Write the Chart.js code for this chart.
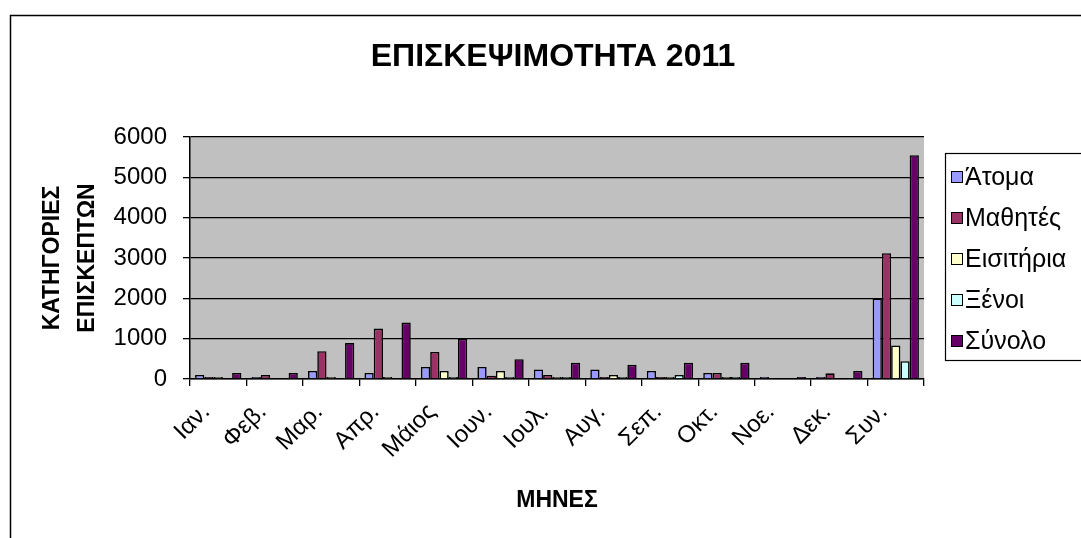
<!DOCTYPE html>
<html>
<head>
<meta charset="utf-8">
<script src="https://cdn.jsdelivr.net/npm/chart.js@4"></script>
<style>
html,body{margin:0;padding:0;background:#fff;overflow:hidden;}
#wrap{width:1081px;height:538px;position:relative;}
</style>
</head>
<body>
<div id="wrap"><canvas id="c" width="1081" height="538"></canvas></div>
<script>
const months = ['Ιαν.','Φεβ.','Μαρ.','Απρ.','Μάιος','Ιουν.','Ιουλ.','Αυγ.','Σεπ.','Οκτ.','Νοε.','Δεκ.','Συν.'];
const seriesNames = ['Άτομα','Μαθητές','Εισιτήρια','Ξένοι','Σύνολο'];
const atoma     = [100, 30, 200, 150, 300, 300, 235, 235, 200, 150, 30, 30, 2000];
const mathites  = [40, 100, 690, 1250, 670, 80, 100, 30, 30, 150, null, 140, 3120];
const eisitiria = [40, null, 40, 40, 200, 200, 30, 100, 30, 30, null, null, 830];
const xenoi     = [null, null, null, null, 40, 40, 30, 30, 100, 30, null, null, 440];
const synolo    = [150, 150, 890, 1400, 1000, 490, 405, 355, 405, 405, 30, 200, 5550];
const yTicks = [0, 1000, 2000, 3000, 4000, 5000, 6000];
const chartTitle = 'ΕΠΙΣΚΕΨΙΜΟΤΗΤΑ 2011';
const colors = ['#9999FF','#993366','#FFFFCC','#CCFFFF','#660066'];
const seriesData = [atoma, mathites, eisitiria, xenoi, synolo];
const FONT = '"Liberation Sans", Arial, sans-serif';

const bgPlugin = {
  id: 'bg',
  beforeDraw(chart) {
    const {ctx, chartArea: a} = chart;
    ctx.save();
    ctx.fillStyle = '#C0C0C0';
    ctx.fillRect(a.left, a.top, a.right - a.left, a.bottom - a.top);
    ctx.restore();
  },
  afterDraw(chart) {
    const ctx = chart.ctx;
    ctx.save();
    // outer frame
    ctx.strokeStyle = '#000';
    ctx.lineWidth = 1.5;
    ctx.strokeRect(10.5, 15.5, 1200, 600);
    // title
    ctx.fillStyle = '#000';
    ctx.font = 'bold 32px ' + FONT;
    ctx.textAlign = 'center';
    ctx.textBaseline = 'middle';
    ctx.fillText(chartTitle, 553, 57);
    // legend
    const lx = 945, ly = 153, lw = 200, lh = 207;
    ctx.fillStyle = '#fff';
    ctx.fillRect(lx, ly, lw, lh);
    ctx.lineWidth = 1.2;
    ctx.strokeRect(lx + 0.5, ly + 0.5, lw, lh);
    ctx.font = '25px ' + FONT;
    ctx.textBaseline = 'middle';
    ctx.textAlign = 'left';
    chart.data.datasets.forEach((ds, i) => {
      const cy = 177 + i * 41;
      ctx.fillStyle = ds.backgroundColor;
      ctx.fillRect(951, cy - 6, 12, 12);
      ctx.strokeStyle = '#000';
      ctx.lineWidth = 1;
      ctx.strokeRect(951.5, cy - 5.5, 11, 11);
      ctx.fillStyle = '#000';
      ctx.fillText(ds.label, 965, cy + 1);
    });
    ctx.restore();
  }
};

new Chart(document.getElementById('c'), {
  type: 'bar',
  data: {
    labels: months,
    datasets: seriesNames.map((n, i) => ({
      label: n,
      data: seriesData[i],
      backgroundColor: colors[i],
      borderColor: '#000',
      borderWidth: 1.6,
      minBarLength: 2,
      categoryPercentage: 0.82,
      barPercentage: 1.0
    }))
  },
  options: {
    responsive: false,
    animation: false,
    devicePixelRatio: 1,
    layout: { padding: { left: 0, right: 157, top: 137, bottom: 0 } },
    plugins: {
      legend: { display: false },
      tooltip: { enabled: false },
      title: { display: false }
    },
    scales: {
      x: {
        afterFit(scale) { scale.height = 159; },
        grid: { offset: true, drawOnChartArea: false, tickLength: 7, color: '#000', lineWidth: 1.3 },
        border: { color: '#000', width: 1.5 },
        ticks: {
          color: '#000',
          autoSkip: false,
          minRotation: 45,
          maxRotation: 45,
          labelOffset: -12,
          padding: 12,
          font: { family: FONT, size: 24 }
        },
        title: {
          display: true,
          text: 'ΜΗΝΕΣ',
          color: '#000',
          font: { family: FONT, size: 23, weight: 'bold', lineHeight: 1.2 },
          padding: { top: 0, bottom: 24 }
        }
      },
      y: {
        min: 0,
        max: 6000,
        afterFit(scale) { scale.width = 190; },
        afterBuildTicks(scale) { scale.ticks = yTicks.map(v => ({ value: v })); },
        grid: { color: '#000', lineWidth: 1.3, tickLength: 7 },
        border: { color: '#000', width: 1.5 },
        ticks: {
          color: '#000',
          padding: 16,
          callback: (v) => String(v),
          font: { family: FONT, size: 24 }
        },
        title: {
          display: true,
          text: ['ΚΑΤΗΓΟΡΙΕΣ', 'ΕΠΙΣΚΕΠΤΩΝ'],
          color: '#000',
          font: { family: FONT, size: 23, weight: 'bold', lineHeight: 1.52 },
          padding: { top: 35, bottom: 0 }
        }
      }
    }
  },
  plugins: [bgPlugin]
});
</script>
</body>
</html>
